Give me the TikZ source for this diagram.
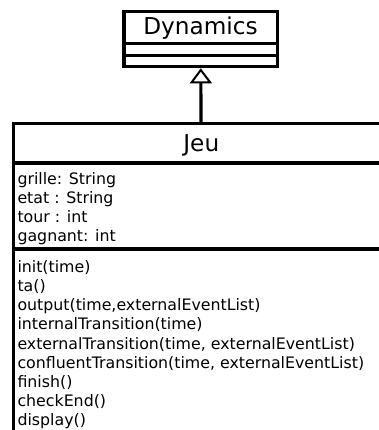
\documentclass[tikz,border=0pt]{standalone}
\usepackage{fontspec}
\setmainfont{DejaVu Sans}
\usetikzlibrary{matrix,arrows.meta}

\begin{document}
\begin{tikzpicture}[x=1pt,y=-1pt,
		umlbox/.style={draw,line width=3.2pt,inner sep=0pt},
		umlline/.style={line width=3.2pt},
		classname/.style={font=\fontsize{23.2}{23.2}\selectfont,anchor=base,inner sep=0pt},
		member/.style={font=\fontsize{15.8}{15.8}\selectfont,anchor=base west,inner sep=0pt,text height=11pt,text depth=4pt}]
			\useasboundingbox (0,0) rectangle (379,430);
			\clip (0,0) rectangle (379,430);
			\node[umlbox,minimum width=153.7pt,minimum height=55pt] (dyn) at (200.8,39.2) {};
			\node[classname] (dynname) at (200.5,35) {Dynamics};
			\draw[umlline] (dyn.west |- 0,43.3) -- (dyn.east |- 0,43.3);
			\draw[umlline] (dyn.west |- 0,55.8) -- (dyn.east |- 0,55.8);
			\node[umlbox,minimum width=375pt,minimum height=360pt] (jeu) at (201,303.7) {};
			\node[classname] (jeuname) at (201.3,151.7) {Jeu};
			\draw[umlline] (jeu.west |- 0,163) -- (jeu.east |- 0,163);
			\draw[umlline] (jeu.west |- 0,249) -- (jeu.east |- 0,249);
			\matrix(M)[matrix of nodes,nodes={member},row sep=4.15pt,inner sep=0pt,outer sep=0pt,anchor=north west] at (17.5,173) {
				grille: String\\
				etat : String\\
				tour : int\\
				gagnant: int\\[11.8pt]
				init(time)\\
				ta()\\
				output(time,externalEventList)\\
				internalTransition(time)\\
				externalTransition(time, externalEventList)\\
				confluentTransition(time, externalEventList)\\
				finish()\\
				checkEnd()\\
				display()\\
			};
			\draw[umlline,-{Triangle[open,length=15pt,width=22pt,line width=2pt]}] (jeu.north) -- (dyn.south);
		\end{tikzpicture}
\end{document}
